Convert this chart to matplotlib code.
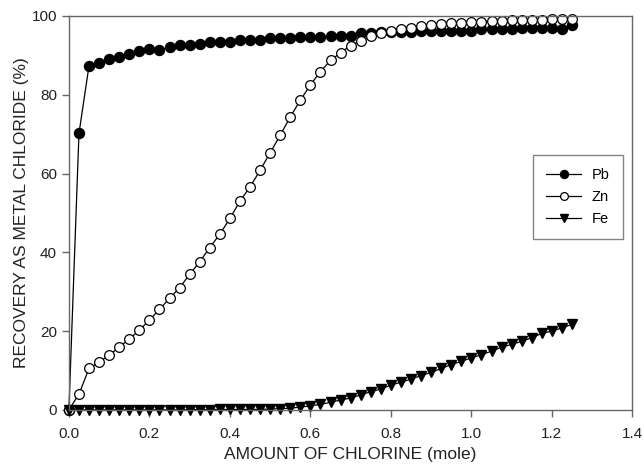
import matplotlib
matplotlib.use('Agg')
import matplotlib.pyplot as plt
import numpy as np

plt.rcParams['font.family'] = ['Liberation Sans', 'DejaVu Sans']

# Cantidad de cloro (mol), paso 0.025
cloro = np.round(np.arange(0, 1.2501, 0.025), 3)

pb = [0, 70.2, 87.4, 88.0, 89.1, 89.7, 90.3, 91.0, 91.6, 91.4,
      92.0, 92.7, 92.7, 92.8, 93.4, 93.5, 93.5, 94.0, 94.0, 94.0,
      94.4, 94.5, 94.5, 94.6, 94.7, 94.7, 94.8, 94.8, 94.8, 95.8,
      95.8, 96.0, 96.0, 96.0, 96.0, 96.2, 96.2, 96.2, 96.2, 96.2,
      96.2, 96.6, 96.6, 96.6, 96.6, 97.0, 97.0, 97.0, 97.0, 96.6,
      97.6]

zn = [0, 4.0, 10.5, 12.1, 13.9, 15.9, 18.0, 20.2, 22.8, 25.5,
      28.3, 31.0, 34.4, 37.6, 41.2, 44.6, 48.6, 53.0, 56.6, 60.8,
      65.3, 69.7, 74.4, 78.6, 82.5, 85.9, 88.7, 90.7, 92.5, 93.7,
      94.8, 95.8, 96.3, 96.7, 96.9, 97.5, 97.6, 98.0, 98.1, 98.2,
      98.5, 98.5, 98.8, 98.8, 99.0, 99.0, 99.0, 99.0, 99.2, 99.3,
      99.3]

fe = [0, 0, 0, 0, 0, 0, 0, 0, 0, 0,
      0, 0, 0.05, 0.05, 0.05, 0.1, 0.1, 0.1, 0.1, 0.1,
      0.2, 0.3, 0.4, 0.7, 1.0, 1.4, 1.9, 2.5, 3.0, 3.8,
      4.6, 5.3, 6.3, 7.0, 7.8, 8.7, 9.5, 10.5, 11.5, 12.3,
      13.2, 14.0, 14.9, 15.9, 16.6, 17.4, 18.3, 19.4, 20.0, 20.8,
      21.7]

fig = plt.figure(figsize=(6.44, 4.70), dpi=100)
ax = fig.add_axes([0.107, 0.128, 0.875, 0.838])

# Graficar las series
ax.plot(cloro, pb, '-', color='black', linewidth=0.9, marker='o', markersize=7.2,
        markerfacecolor='black', markeredgecolor='black', label='Pb', clip_on=False)
ax.plot(cloro, zn, '-', color='black', linewidth=0.9, marker='o', markersize=7,
        markerfacecolor='white', markeredgecolor='black', markeredgewidth=0.9,
        label='Zn', clip_on=False)
ax.plot(cloro, fe, '-', color='black', linewidth=0.9, marker='v', markersize=7.2,
        markerfacecolor='black', markeredgecolor='black', label='Fe', clip_on=False)

ax.set_xlim(0, 1.4)
ax.set_ylim(0, 100)
ax.set_xticks(np.arange(0, 1.41, 0.2))
ax.set_xticklabels([f'{v:.1f}' for v in np.arange(0, 1.41, 0.2)])
ax.set_yticks(np.arange(0, 101, 20))

ax.set_xlabel('AMOUNT OF CHLORINE (mole)', fontsize=12.5, color='#222222', labelpad=5)
ax.set_ylabel('RECOVERY AS METAL CHLORIDE (%)', fontsize=12.5, color='#222222', labelpad=2)

for s in ax.spines.values():
    s.set_color('#666666')
    s.set_linewidth(1.0)
ax.tick_params(direction='out', length=5, width=1, color='#666666',
               labelsize=11, labelcolor='#222222')
ax.tick_params(axis='x', pad=7)

leg = ax.legend(loc='upper left', bbox_to_anchor=(0.824, 0.647), borderaxespad=0,
                fontsize=10.5, frameon=True, fancybox=False, edgecolor='#666666',
                handlelength=2.4, handletextpad=0.7, borderpad=0.9,
                labelspacing=0.55, markerscale=0.8)
leg.get_frame().set_linewidth(1.0)

fig.savefig('out.png', dpi=100)
